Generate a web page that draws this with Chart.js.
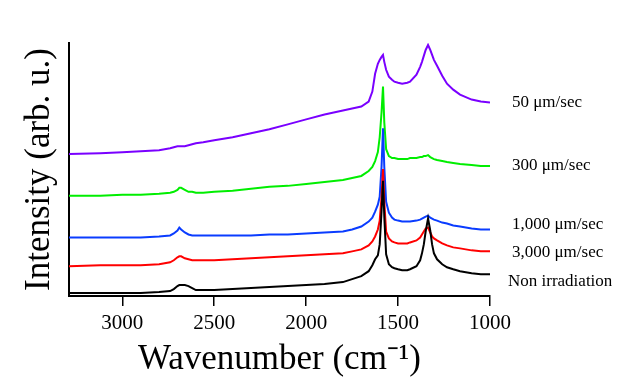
<!DOCTYPE html>
<html lang="en">
<head>
    <meta charset="UTF-8">
    <title>Raman spectra</title>
    <script src="https://cdn.jsdelivr.net/npm/chart.js"></script>
    <style>
        body { margin: 0; background: #fff; }
    </style>
</head>
<body>
    <canvas id="grafico" width="619" height="383"></canvas>
    <script>
        // Wavenumber sample points (cm-1), shared by all spectra
        const wavenumbers = [3290, 3120, 3000, 2900, 2800, 2740, 2720, 2700, 2690, 2680,
            2660, 2640, 2620, 2600, 2560, 2500, 2400, 2300, 2200, 2100,
            2000, 1900, 1800, 1750, 1700, 1660, 1640, 1625, 1610, 1600,
            1590, 1582, 1575, 1565, 1550, 1533, 1520, 1500, 1478, 1450,
            1435, 1400, 1380, 1370, 1360, 1350, 1337, 1325, 1315, 1305,
            1288, 1260, 1234, 1200, 1163, 1100, 1050, 1000];

        // Intensities (arb. u., already offset)
        const nonIrradiation = [3, 3, 3, 3, 4, 5, 7, 10, 11, 11,
            11, 10, 8, 6, 6, 6, 7, 8, 9, 10,
            11, 12, 14, 17, 20, 25, 31, 37, 41, 52,
            85, 116, 80, 42, 32, 29, 28, 27, 26, 26,
            27, 30, 36, 43, 52, 65, 78, 66, 52, 43,
            37, 32, 29, 27, 25, 23, 22, 22];
        const speed3000 = [30, 31, 31, 31, 32, 34, 36, 39, 40, 40,
            38, 37, 36, 36, 36, 36, 37, 38, 39, 40,
            41, 42, 43, 45, 47, 51, 55, 60, 67, 76,
            100, 128, 95, 65, 58, 55, 54, 53, 53, 53,
            54, 56, 59, 62, 65, 68, 69, 64, 60, 58,
            56, 53, 51, 49, 48, 46, 45, 45];
        const speed1000 = [59, 59, 59, 59, 60, 61, 63, 66, 69, 67,
            64, 62, 61, 61, 61, 61, 61, 61, 62, 62,
            63, 64, 65, 67, 70, 75, 79, 85, 92, 100,
            130, 169, 130, 95, 84, 79, 77, 76, 75, 75,
            75, 76, 77, 78, 79, 80, 81, 79, 78, 77,
            76, 74, 73, 71, 70, 68, 67, 67];
        const speed300 = [101, 101, 102, 102, 103, 104, 105, 107, 109, 109,
            107, 105, 105, 104, 104, 105, 106, 108, 110, 111,
            113, 115, 117, 119, 121, 126, 130, 136, 145, 160,
            185, 211, 175, 148, 141, 139, 139, 138, 138, 138,
            139, 139, 140, 140, 141, 141, 142, 140, 139, 138,
            137, 136, 135, 134, 133, 132, 131, 131];
        const speed50 = [143, 144, 145, 146, 147, 149, 150, 151, 151, 151,
            151, 152, 153, 154, 155, 157, 160, 164, 168, 173,
            178, 183, 187, 189, 191, 196, 206, 224, 234, 238,
            241, 243, 236, 228, 221, 218, 216, 215, 214, 215,
            216, 223, 231, 236, 242, 248, 253, 248, 243, 238,
            232, 222, 214, 208, 203, 198, 196, 195];

        const etiquetas = ['Non irradiation', '3,000 μm/sec', '1,000 μm/sec', '300 μm/sec', '50 μm/sec'];
        const colores = ['#000000', '#ff0000', '#0a3cff', '#00ee00', '#7a00ff'];
        const series = [nonIrradiation, speed3000, speed1000, speed300, speed50];
        const ticksX = [3000, 2500, 2000, 1500, 1000];

        const fuente = "'Liberation Serif', 'Times New Roman', serif";

        function aPuntos(valores) {
            return wavenumbers.map((w, i) => ({ x: w, y: valores[i] }));
        }

        // Labels at the right end of each spectrum
        const nudges = [7, 1, -5, 0, 0];
        const etiquetasDerecha = {
            id: 'etiquetasDerecha',
            afterDatasetsDraw(chart) {
                const ctx = chart.ctx;
                const yScale = chart.scales.y;
                ctx.save();
                ctx.font = '17px ' + fuente;
                ctx.fillStyle = '#000';
                ctx.textBaseline = 'middle';
                ctx.textAlign = 'left';
                series.forEach((s, i) => {
                    const y = yScale.getPixelForValue(s[s.length - 1]) + nudges[i];
                    const x = chart.chartArea.right + (i === 0 ? 18 : 22);
                    ctx.fillText(etiquetas[i], x, y);
                });
                ctx.restore();
            }
        };

        new Chart(document.getElementById('grafico'), {
            type: 'line',
            data: {
                datasets: series.map((s, i) => ({
                    label: etiquetas[i],
                    data: aPuntos(s),
                    borderColor: colores[i],
                    borderWidth: 2,
                    pointRadius: 0,
                    tension: 0,
                    fill: false
                }))
            },
            options: {
                responsive: false,
                animation: false,
                layout: { padding: { top: 43, right: 129, left: 0, bottom: 0 } },
                plugins: {
                    legend: { display: false },
                    tooltip: { enabled: false }
                },
                scales: {
                    x: {
                        type: 'linear',
                        reverse: true,
                        min: 1000,
                        max: 3290,
                        afterFit: s => { s.height = 87; },
                        afterBuildTicks: s => { s.ticks = ticksX.map(v => ({ value: v })); },
                        grid: { drawOnChartArea: false, drawTicks: true, tickLength: 10, color: '#000', lineWidth: 1.5 },
                        border: { display: true, color: '#000', width: 2 },
                        ticks: { color: '#000', padding: 5, font: { family: fuente, size: 21 }, callback: v => String(v) },
                        title: {
                            display: true,
                            text: 'Wavenumber (cm⁻¹)',
                            color: '#000',
                            padding: { top: 0, bottom: 2 },
                            font: { family: fuente, size: 35 }
                        }
                    },
                    y: {
                        min: 0,
                        max: 255,
                        afterFit: s => { s.width = 69; },
                        grid: { display: false },
                        border: { display: true, color: '#000', width: 2 },
                        ticks: { display: false },
                        title: {
                            display: true,
                            text: 'Intensity (arb. u.)',
                            color: '#000',
                            padding: { top: 19, bottom: 0 },
                            font: { family: fuente, size: 35 }
                        }
                    }
                }
            },
            plugins: [etiquetasDerecha]
        });
    </script>
</body>
</html>
